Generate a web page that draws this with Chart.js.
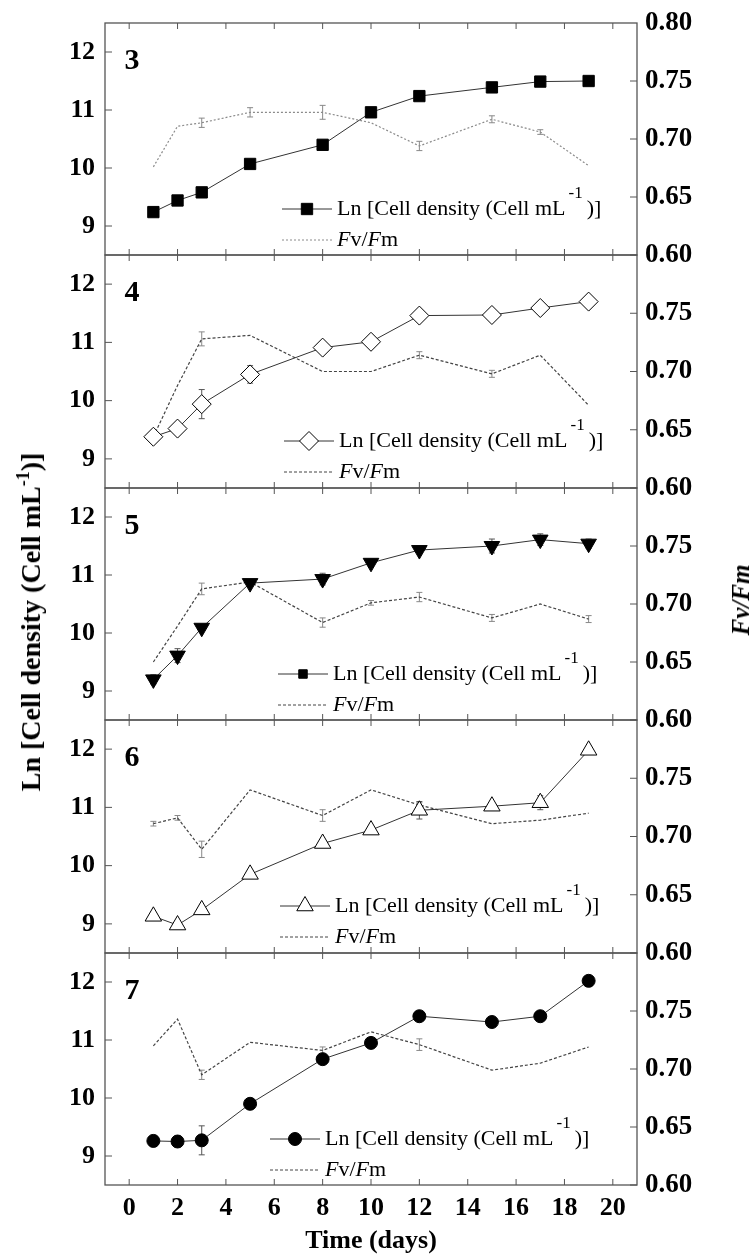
<!DOCTYPE html>
<html>
<head>
<meta charset="utf-8">
<script src="https://cdn.jsdelivr.net/npm/chart.js@4.4.1/dist/chart.umd.min.js"></script>
<style>
  html, body { margin: 0; padding: 0; background: #fff; }
  body { width: 754px; height: 1259px; position: relative; overflow: hidden; font-family: "Liberation Serif", "Times New Roman", serif; }
  canvas.panel { position: absolute; left: 0; }
  .vtitle { position: absolute; white-space: nowrap; font-weight: bold; color: #000; transform: translate(-50%, -50%) rotate(-90deg); z-index: 20; }
  #ytitle { left: 30px; top: 622px; font-size: 28px; }
  #ytitle sup { font-size: 18px; vertical-align: 11px; }
  #y1title { left: 741px; top: 600px; font-size: 25px; font-style: italic; }
</style>
</head>
<body>
<div id="ytitle" class="vtitle">Ln [Cell density (Cell mL<sup>-1</sup>)]</div>
<div id="y1title" class="vtitle">Fv/Fm</div>

<script>
// sampling days
const days = [1, 2, 3, 5, 8, 10, 12, 15, 17, 19];
const xTicks = [0, 2, 4, 6, 8, 10, 12, 14, 16, 18, 20];
const lnTicks = [9, 10, 11, 12];
const fvTicks = [0.60, 0.65, 0.70, 0.75];
const fvTicksTop = [0.60, 0.65, 0.70, 0.75, 0.80];
const panelNames = ['3', '4', '5', '6', '7'];

// Ln [cell density] per panel
const ln3 = [9.24, 9.44, 9.58, 10.07, 10.40, 10.96, 11.24, 11.39, 11.49, 11.50];
const ln4 = [9.38, 9.52, 9.94, 10.45, 10.91, 11.01, 11.46, 11.47, 11.59, 11.70];
const ln5 = [9.20, 9.61, 10.09, 10.86, 10.93, 11.21, 11.43, 11.50, 11.61, 11.54];
const ln6 = [9.13, 8.98, 9.24, 9.85, 10.38, 10.61, 10.95, 11.02, 11.08, 11.98];
const ln7 = [9.26, 9.25, 9.27, 9.90, 10.67, 10.95, 11.41, 11.31, 11.41, 12.02];

// Fv/Fm per panel
const fv3 = [0.676, 0.711, 0.714, 0.723, 0.723, 0.714, 0.694, 0.717, 0.706, 0.677];
const fv4 = [0.644, 0.688, 0.728, 0.731, 0.700, 0.700, 0.714, 0.698, 0.714, 0.671];
const fv5 = [0.650, 0.681, 0.713, 0.719, 0.684, 0.701, 0.706, 0.688, 0.700, 0.687];
const fv6 = [0.711, 0.716, 0.689, 0.740, 0.718, 0.740, 0.727, 0.711, 0.714, 0.720];
const fv7 = [0.720, 0.743, 0.695, 0.723, 0.716, 0.732, 0.721, 0.699, 0.705, 0.719];

// error bars (same order as days)
const lnErr3 = [0, 0, 0, 0.06, 0, 0, 0, 0, 0, 0];
const lnErr4 = [0, 0, 0.25, 0.15, 0, 0, 0, 0, 0, 0];
const lnErr5 = [0.08, 0.12, 0, 0, 0.1, 0.06, 0, 0.12, 0.1, 0.08];
const lnErr6 = [0, 0, 0, 0, 0, 0, 0.15, 0, 0.12, 0];
const lnErr7 = [0.1, 0.1, 0.25, 0, 0, 0, 0, 0, 0, 0];
const fvErr3 = [0, 0, 0.004, 0.004, 0.006, 0, 0.004, 0.003, 0.002, 0];
const fvErr4 = [0, 0, 0.006, 0, 0, 0, 0.003, 0.003, 0, 0];
const fvErr5 = [0, 0, 0.005, 0, 0.004, 0.002, 0.004, 0.003, 0, 0.003];
const fvErr6 = [0.002, 0.002, 0.007, 0, 0.005, 0, 0.002, 0, 0, 0];
const fvErr7 = [0, 0, 0.004, 0, 0.003, 0, 0.005, 0, 0, 0];

const FONT = '"Liberation Serif", "Times New Roman", serif';

const panels = [
  { ln: ln3, fv: fv3, lnErr: lnErr3, fvErr: fvErr3, style: 'rect', rot: 0, fill: '#000', r: 8, fvColor: '#8a8a8a', fvDash: [2, 2], legendX: 282, legendMarker: 'rect', legendR: 8 },
  { ln: ln4, fv: fv4, lnErr: lnErr4, fvErr: fvErr4, style: 'rectRot', rot: 0, fill: '#fff', r: 9.5, fvColor: '#444', fvDash: [3, 2], legendX: 284, legendMarker: 'rectRot', legendR: 9.5 },
  { ln: ln5, fv: fv5, lnErr: lnErr5, fvErr: fvErr5, style: 'triangle', rot: 180, fill: '#000', r: 9, fvColor: '#444', fvDash: [3, 2], legendX: 278, legendMarker: 'rect', legendR: 6 },
  { ln: ln6, fv: fv6, lnErr: lnErr6, fvErr: fvErr6, style: 'triangle', rot: 0, fill: '#fff', r: 9.5, fvColor: '#444', fvDash: [3, 2], legendX: 280, legendMarker: 'triangle', legendR: 9.5 },
  { ln: ln7, fv: fv7, lnErr: lnErr7, fvErr: fvErr7, style: 'circle', rot: 0, fill: '#000', r: 6.5, fvColor: '#444', fvDash: [3, 2], legendX: 270, legendMarker: 'circle', legendR: 6.5 }
];

function marker(ctx, style, rot, r, x, y, fill) {
  ctx.beginPath();
  if (style === 'rect') {
    const s = r * Math.SQRT1_2;
    ctx.rect(x - s, y - s, 2 * s, 2 * s);
  } else if (style === 'rectRot') {
    ctx.moveTo(x - r, y); ctx.lineTo(x, y - r); ctx.lineTo(x + r, y); ctx.lineTo(x, y + r); ctx.closePath();
  } else if (style === 'triangle') {
    const d = rot === 180 ? -1 : 1;
    ctx.moveTo(x, y - d * r);
    ctx.lineTo(x - r * 0.866, y + d * r * 0.5);
    ctx.lineTo(x + r * 0.866, y + d * r * 0.5);
    ctx.closePath();
  } else {
    ctx.arc(x, y, r, 0, Math.PI * 2);
  }
  ctx.fillStyle = fill;
  ctx.fill();
  ctx.strokeStyle = '#000';
  ctx.lineWidth = 1;
  ctx.stroke();
}

const decor = {
  id: 'decor',
  beforeDatasetsDraw(chart, args, o) {
    const { ctx, chartArea: a, scales } = chart;
    ctx.save();
    // frame
    ctx.strokeStyle = '#555';
    ctx.lineWidth = 1.3;
    ctx.strokeRect(a.left, a.top, a.right - a.left, a.bottom - a.top);
    // inward tick marks
    ctx.lineWidth = 1;
    ctx.beginPath();
    xTicks.forEach(v => {
      const x = scales.x.getPixelForValue(v);
      ctx.moveTo(x, a.top); ctx.lineTo(x, a.top + 6);
      ctx.moveTo(x, a.bottom); ctx.lineTo(x, a.bottom - 6);
    });
    lnTicks.forEach(v => {
      const y = scales.y.getPixelForValue(v);
      ctx.moveTo(a.left, y); ctx.lineTo(a.left + 7, y);
    });
    fvTicks.forEach(v => {
      const y = scales.y1.getPixelForValue(v);
      ctx.moveTo(a.right, y); ctx.lineTo(a.right - 7, y);
    });
    ctx.stroke();
    // error bars
    chart.data.datasets.forEach(ds => {
      const ys = scales[ds.yAxisID];
      ctx.strokeStyle = ds.errColor;
      ctx.lineWidth = 1;
      ctx.beginPath();
      ds.errors.forEach((e, i) => {
        if (!e) return;
        const x = scales.x.getPixelForValue(days[i]);
        const yt = ys.getPixelForValue(ds.data[i] + e);
        const yb = ys.getPixelForValue(ds.data[i] - e);
        ctx.moveTo(x, yt); ctx.lineTo(x, yb);
        ctx.moveTo(x - 3, yt); ctx.lineTo(x + 3, yt);
        ctx.moveTo(x - 3, yb); ctx.lineTo(x + 3, yb);
      });
      ctx.stroke();
    });
    ctx.restore();
  },
  afterDatasetsDraw(chart, args, o) {
    const { ctx, chartArea: a } = chart;
    const p = o.panel;
    ctx.save();
    // panel number
    ctx.fillStyle = '#000';
    ctx.font = 'bold 30px ' + FONT;
    ctx.textAlign = 'center';
    ctx.textBaseline = 'middle';
    ctx.fillText(o.name, a.left + 27, a.top + 38);

    // legend
    const y1 = a.top + 186, y2 = a.top + 217;
    const x0 = p.legendX, x1 = x0 + 50, tx = x1 + 5;
    ctx.strokeStyle = '#333';
    ctx.lineWidth = 1;
    ctx.setLineDash([]);
    ctx.beginPath(); ctx.moveTo(x0, y1); ctx.lineTo(x1, y1); ctx.stroke();
    marker(ctx, p.legendMarker, 0, p.legendR, (x0 + x1) / 2, y1, p.fill);
    ctx.strokeStyle = p.fvColor;
    ctx.setLineDash(p.fvDash);
    ctx.beginPath(); ctx.moveTo(x0, y2); ctx.lineTo(x1, y2); ctx.stroke();
    ctx.setLineDash([]);

    ctx.fillStyle = '#000';
    ctx.textAlign = 'left';
    ctx.font = '22px ' + FONT;
    const t1 = 'Ln [Cell density (Cell mL';
    ctx.fillText(t1, tx, y1);
    let w = ctx.measureText(t1).width + 3;
    ctx.font = '17px ' + FONT;
    ctx.fillText('-1', tx + w, y1 - 15);
    w += ctx.measureText('-1').width + 4;
    ctx.font = '22px ' + FONT;
    ctx.fillText(')]', tx + w, y1);

    let cx = tx;
    [['F', true], ['v/', false], ['F', true], ['m', false]].forEach(([s, it]) => {
      ctx.font = (it ? 'italic ' : '') + '22px ' + FONT;
      ctx.fillText(s, cx, y2);
      cx += ctx.measureText(s).width;
    });
    ctx.restore();
  }
};

const TOP = 23, PH = 232.4, PAD = 28;
const XAXIS_H = 1259 - Math.round(TOP + 5 * PH);

panels.forEach((p, i) => {
  const top = Math.round(TOP + i * PH);
  const h = Math.round(TOP + (i + 1) * PH) - top;
  const last = i === panels.length - 1;
  const cv = document.createElement('canvas');
  cv.className = 'panel';
  cv.width = 754;
  cv.height = last ? h + PAD + XAXIS_H : h + 2 * PAD;
  cv.style.top = (top - PAD) + 'px';
  cv.style.zIndex = 10 - i;
  document.body.appendChild(cv);

  new Chart(cv.getContext('2d'), {
    type: 'line',
    data: {
      datasets: [
        {
          label: 'Ln [Cell density (Cell mL-1)]',
          data: p.ln, errors: p.lnErr, errColor: '#555',
          yAxisID: 'y', order: 0,
          borderColor: '#333', borderWidth: 1, tension: 0,
          pointStyle: p.style, rotation: p.rot, pointRadius: p.r,
          pointBackgroundColor: p.fill, pointBorderColor: '#000', pointBorderWidth: 1
        },
        {
          label: 'Fv/Fm',
          data: p.fv, errors: p.fvErr, errColor: '#888',
          yAxisID: 'y1', order: 1,
          borderColor: p.fvColor, borderWidth: 1.2, borderDash: p.fvDash, tension: 0,
          pointRadius: 0
        }
      ],
      labels: days
    },
    options: {
      responsive: false,
      animation: false,
      layout: { padding: { left: 0, right: 0, top: PAD, bottom: last ? 0 : PAD } },
      plugins: {
        legend: { display: false },
        tooltip: { enabled: false },
        decor: { panel: p, name: panelNames[i] }
      },
      scales: {
        x: {
          type: 'linear', min: -1, max: 21,
          display: last,
          afterBuildTicks: s => { s.ticks = xTicks.map(v => ({ value: v })); },
          afterFit: s => { if (last) s.height = XAXIS_H; },
          grid: { display: false, drawTicks: false },
          border: { display: false },
          ticks: { color: '#000', padding: 8, font: { family: FONT, size: 26, weight: 'bold' } },
          title: { display: true, text: 'Time (days)', color: '#000', padding: { top: 2, bottom: 2 }, font: { family: FONT, size: 26, weight: 'bold' } }
        },
        y: {
          position: 'left', min: 8.5, max: 12.5,
          afterBuildTicks: s => { s.ticks = lnTicks.map(v => ({ value: v })); },
          afterFit: s => { s.width = 105; },
          grid: { display: false, drawTicks: false },
          border: { display: false },
          ticks: { color: '#000', padding: 10, font: { family: FONT, size: 26, weight: 'bold' } }
        },
        y1: {
          position: 'right', min: 0.6, max: 0.8,
          afterBuildTicks: s => { s.ticks = (i === 0 ? fvTicksTop : fvTicks).map(v => ({ value: v })); },
          afterFit: s => { s.width = 117; },
          grid: { display: false, drawTicks: false },
          border: { display: false },
          ticks: { color: '#000', padding: 8, callback: v => Number(v).toFixed(2), font: { family: FONT, size: 27, weight: 'bold' } }
        }
      }
    },
    plugins: [decor]
  });
});
</script>
</body>
</html>
